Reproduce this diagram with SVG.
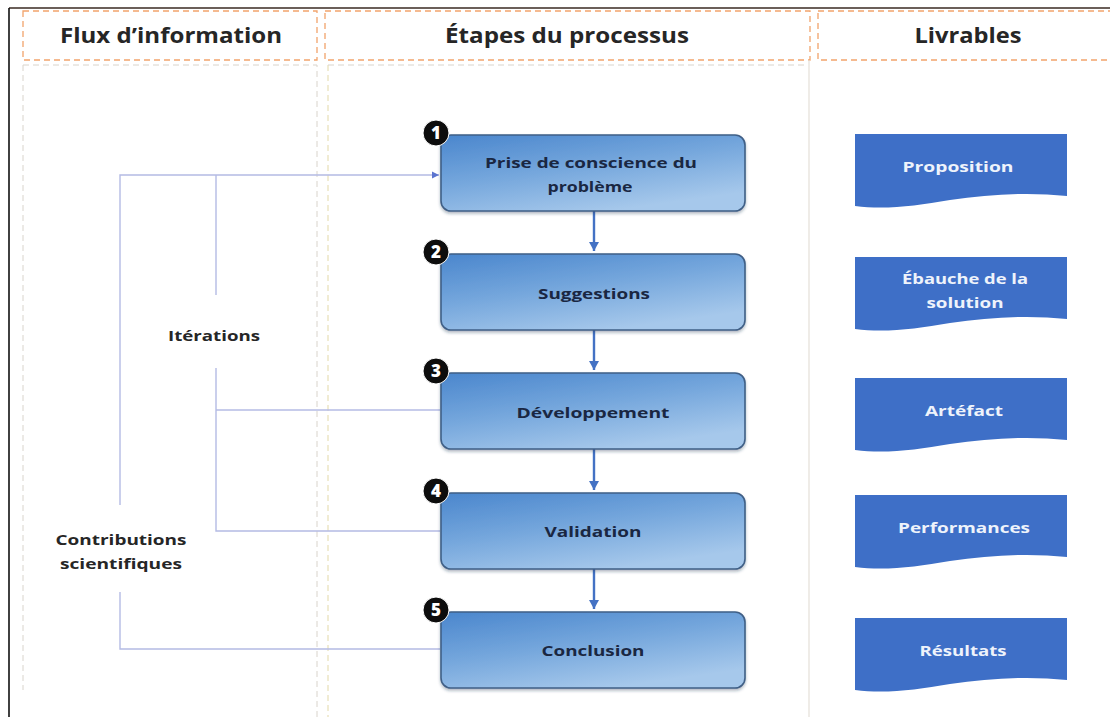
<svg xmlns="http://www.w3.org/2000/svg" width="1110" height="717" viewBox="0 0 1110 717">
  <defs>
    <style>
      .hdr { fill: none; stroke: #f2a46c; stroke-width: 1.3; stroke-dasharray: 6 4; }
      .col { fill: none; stroke: #d9d4cc; stroke-width: 1; stroke-dasharray: 6 4; }
      .coly { fill: none; stroke: #e3d9a8; stroke-width: 1; stroke-dasharray: 6 4; }
      .htxt { font-family: "Open Sans", "Liberation Sans", sans-serif; font-weight: 700; font-size: 21px; fill: #262626; text-anchor: middle; }
      .ltxt { font-family: "Open Sans", "Liberation Sans", sans-serif; font-weight: 700; font-size: 15px; fill: #262626; text-anchor: middle; }
      .step { fill: url(#stepFill); stroke: #3f5f86; stroke-width: 1.6; }
      .stxt { font-family: "Open Sans", "Liberation Sans", sans-serif; font-weight: 700; font-size: 15px; fill: #1a2742; text-anchor: middle; }
      .badge { fill: #0d0d0d; stroke: #ffffff; stroke-width: 1; }
      .btxt { font-family: "Open Sans", "Liberation Sans", sans-serif; font-weight: 800; font-size: 17px; fill: #ffffff; text-anchor: middle; }
      .doc { fill: #3e6fc7; }
      .dtxt { font-family: "Open Sans", "Liberation Sans", sans-serif; font-weight: 700; font-size: 15px; fill: #eef3fb; text-anchor: middle; }
      .flow { fill: none; stroke: #4472c4; stroke-width: 2.4; }
      .loop { fill: none; stroke: #b4bbe4; stroke-width: 1.4; }
    </style>
    <linearGradient id="stepFill" x1="0" y1="0" x2="0.55" y2="1">
      <stop offset="0" stop-color="#4a86cd"/>
      <stop offset="0.5" stop-color="#74a6dc"/>
      <stop offset="1" stop-color="#a6c8eb"/>
    </linearGradient>
    <filter id="soft" x="-5%" y="-10%" width="110%" height="125%">
      <feDropShadow dx="0" dy="2" stdDeviation="1.5" flood-color="#1f3550" flood-opacity="0.35"/>
    </filter>
    <!-- arrowheads are drawn pointing along +x so orient="auto" turns them with the line -->
    <marker id="arrowDown" markerUnits="userSpaceOnUse" markerWidth="12" markerHeight="12" refX="10" refY="6" orient="auto" viewBox="0 0 12 12">
      <path d="M1,1 L10,6 L1,11 Z" fill="#4472c4"/>
    </marker>
    <marker id="arrowLoop" markerUnits="userSpaceOnUse" markerWidth="8" markerHeight="8" refX="7" refY="4" orient="auto" viewBox="0 0 8 8">
      <path d="M0,0.5 L7,4 L0,7.5 Z" fill="#5b74cf"/>
    </marker>
    <!-- document shape with wavy bottom edge -->
    <path id="docShape" d="M855,0 H1067 V62 C1030,58 990,60 950,66 C915,72 885,76 855,72 Z"/>
  </defs>

  <rect x="0" y="0" width="1110" height="717" fill="#ffffff"/>

  <!-- frame -->
  <g id="frame">
    <line x1="9" y1="8" x2="1110" y2="8" stroke="#3a2a22" stroke-width="1.6"/>
    <line x1="9" y1="8" x2="9" y2="717" stroke="#111111" stroke-width="1.6"/>
  </g>

  <!-- column lanes -->
  <g id="lanes">
    <rect class="hdr" x="23" y="11" width="294" height="49"/>
    <rect class="hdr" x="325" y="11" width="485" height="49"/>
    <rect class="hdr" x="818" y="11" width="300" height="49"/>
    <path class="col" d="M23,65 V690 M23,65 H317 V717"/>
    <path class="coly" d="M328,65 V717"/>
    <path class="col" d="M328,65 H808"/>
    <line x1="809" y1="60" x2="809" y2="717" stroke="#e4dfd8" stroke-width="1.2"/>
  </g>

  <g id="headers">
    <text class="htxt" x="171" y="43" textLength="222" lengthAdjust="spacingAndGlyphs">Flux d’information</text>
    <text class="htxt" x="567" y="43" textLength="244" lengthAdjust="spacingAndGlyphs">Étapes du processus</text>
    <text class="htxt" x="968" y="43" textLength="107" lengthAdjust="spacingAndGlyphs">Livrables</text>
  </g>

  <!-- connectors -->
  <g id="connectors">
    <line class="flow" x1="594" y1="211" x2="594" y2="251" marker-end="url(#arrowDown)"/>
    <line class="flow" x1="594" y1="330" x2="594" y2="370" marker-end="url(#arrowDown)"/>
    <line class="flow" x1="594" y1="449" x2="594" y2="490" marker-end="url(#arrowDown)"/>
    <line class="flow" x1="594" y1="569" x2="594" y2="609" marker-end="url(#arrowDown)"/>

    <!-- contributions loop: conclusion back to problem awareness -->
    <path class="loop" d="M440,649 H120 V592"/>
    <path class="loop" d="M120,505 V175 H439" marker-end="url(#arrowLoop)"/>
    <!-- iterations loop -->
    <path class="loop" d="M216,175 V295"/>
    <path class="loop" d="M216,368 V531 H440"/>
    <path class="loop" d="M216,410 H440"/>
  </g>

  <g id="flow-labels">
    <text class="ltxt" x="214" y="341" textLength="92" lengthAdjust="spacingAndGlyphs">Itérations</text>
    <text class="ltxt" x="121" y="545" textLength="131" lengthAdjust="spacingAndGlyphs">Contributions</text>
    <text class="ltxt" x="121" y="569" textLength="122" lengthAdjust="spacingAndGlyphs">scientifiques</text>
  </g>

  <!-- process steps -->
  <g id="step1">
    <rect class="step" x="441" y="135" width="304" height="76" rx="10" filter="url(#soft)"/>
    <text class="stxt" x="591" y="168" textLength="212" lengthAdjust="spacingAndGlyphs">Prise de conscience du</text>
    <text class="stxt" x="590" y="192" textLength="85" lengthAdjust="spacingAndGlyphs">problème</text>
    <circle class="badge" cx="436" cy="133" r="13"/>
    <text class="btxt" x="436" y="139">1</text>
  </g>
  <g id="step2">
    <rect class="step" x="441" y="254" width="304" height="76" rx="10" filter="url(#soft)"/>
    <text class="stxt" x="594" y="299" textLength="112" lengthAdjust="spacingAndGlyphs">Suggestions</text>
    <circle class="badge" cx="436" cy="252" r="13"/>
    <text class="btxt" x="436" y="258">2</text>
  </g>
  <g id="step3">
    <rect class="step" x="441" y="373" width="304" height="76" rx="10" filter="url(#soft)"/>
    <text class="stxt" x="593" y="418" textLength="153" lengthAdjust="spacingAndGlyphs">Développement</text>
    <circle class="badge" cx="436" cy="371" r="13"/>
    <text class="btxt" x="436" y="377">3</text>
  </g>
  <g id="step4">
    <rect class="step" x="441" y="493" width="304" height="76" rx="10" filter="url(#soft)"/>
    <text class="stxt" x="593" y="537" textLength="97" lengthAdjust="spacingAndGlyphs">Validation</text>
    <circle class="badge" cx="436" cy="491" r="13"/>
    <text class="btxt" x="436" y="497">4</text>
  </g>
  <g id="step5">
    <rect class="step" x="441" y="612" width="304" height="76" rx="10" filter="url(#soft)"/>
    <text class="stxt" x="593" y="656" textLength="103" lengthAdjust="spacingAndGlyphs">Conclusion</text>
    <circle class="badge" cx="436" cy="610" r="13"/>
    <text class="btxt" x="436" y="616">5</text>
  </g>

  <!-- deliverables -->
  <g id="deliv-proposition">
    <use href="#docShape" class="doc" transform="translate(0,134)"/>
    <text class="dtxt" x="958" y="172" textLength="111" lengthAdjust="spacingAndGlyphs">Proposition</text>
  </g>
  <g id="deliv-ebauche">
    <use href="#docShape" class="doc" transform="translate(0,257)"/>
    <text class="dtxt" x="965" y="284" textLength="126" lengthAdjust="spacingAndGlyphs">Ébauche de la</text>
    <text class="dtxt" x="965" y="308" textLength="77" lengthAdjust="spacingAndGlyphs">solution</text>
  </g>
  <g id="deliv-artefact">
    <use href="#docShape" class="doc" transform="translate(0,378)"/>
    <text class="dtxt" x="964" y="416" textLength="78" lengthAdjust="spacingAndGlyphs">Artéfact</text>
  </g>
  <g id="deliv-performances">
    <use href="#docShape" class="doc" transform="translate(0,495)"/>
    <text class="dtxt" x="964" y="533" textLength="132" lengthAdjust="spacingAndGlyphs">Performances</text>
  </g>
  <g id="deliv-resultats">
    <use href="#docShape" class="doc" transform="translate(0,618)"/>
    <text class="dtxt" x="963" y="656" textLength="87" lengthAdjust="spacingAndGlyphs">Résultats</text>
  </g>
</svg>
